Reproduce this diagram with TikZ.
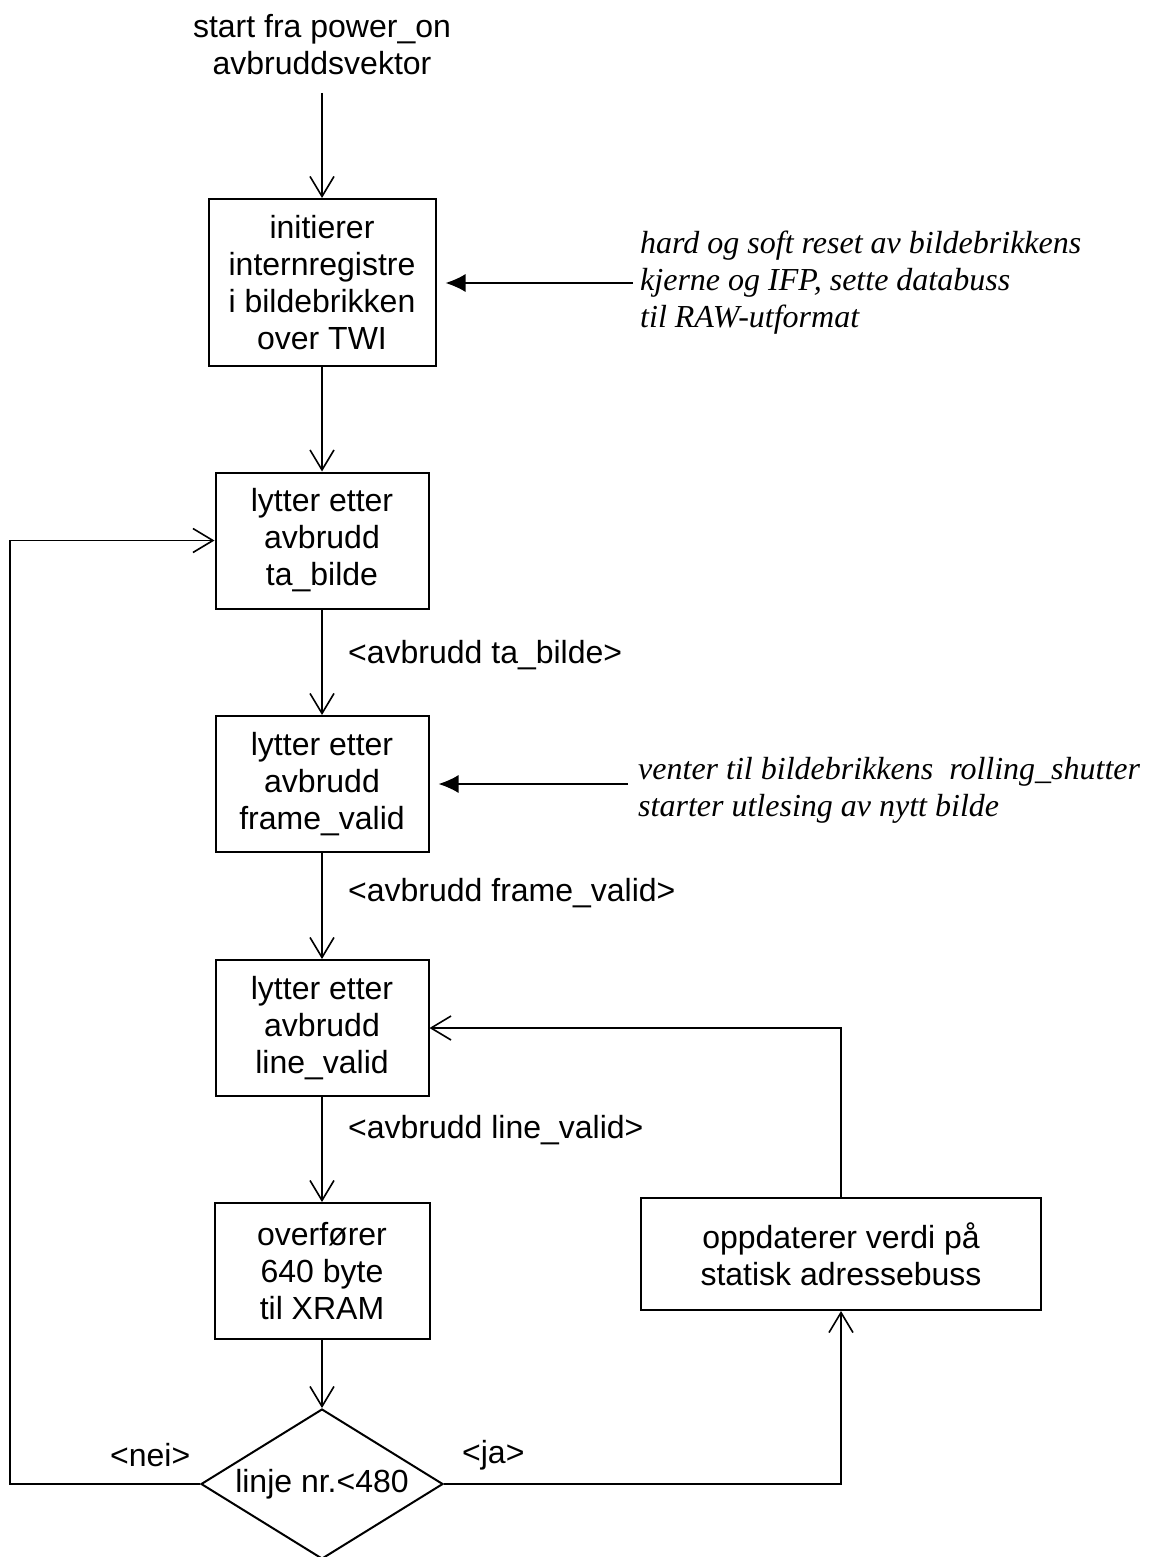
\documentclass[tikz,border=0pt]{standalone}
\usepackage{fontspec}
\setmainfont{Liberation Sans}
\newfontfamily\notefont{Liberation Serif}
\usetikzlibrary{arrows.meta,shapes.geometric}
\begin{document}
\begin{tikzpicture}[x=1pt,y=-1pt,
  every node/.style={font=\fontsize{32}{37}\selectfont},
  box/.style={draw, line width=2pt, inner sep=0pt, align=center,
              minimum width=213pt, minimum height=136pt},
  flow/.style={line width=1.6pt,
               -{Straight Barb[length=20pt,width=24pt,line width=1.6pt]}},
  hint/.style={line width=1.6pt, -{Latex[length=20pt,width=18pt]}},
  note/.style={font=\notefont\itshape\fontsize{32}{37}\selectfont,
               align=left, anchor=west, inner sep=0pt},
  lbl/.style={anchor=west, inner sep=0pt}
]
\useasboundingbox (0,0) rectangle (1159,1557);

% entry point
\node (start) at (322,45) [align=center, inner sep=0pt]
  {start fra power\_on\\avbruddsvektor};
\coordinate (s0) at (322,93);

% process steps
\node (b1) at (322,282.5) [box, minimum width=227pt, minimum height=167pt]
  {initierer\\internregistre\\i bildebrikken\\over TWI};
\node (b2) at (322,540.5) [box] {lytter etter\\avbrudd\\ta\_bilde};
\node (b3) at (322,784) [box] {lytter etter\\avbrudd\\frame\_valid};
\node (b4) at (322,1028) [box] {lytter etter\\avbrudd\\line\_valid};
\node (b5) at (322,1271) [box, minimum width=215pt] {overfører\\640 byte\\til XRAM};
\node (b6) at (841,1254) [box, minimum width=400pt, minimum height=112pt]
  {oppdaterer verdi på\\statisk adressebuss};

% decision
\node (dec) at (322,1484) [draw, diamond, line width=2pt, inner sep=0pt,
  minimum width=242pt, minimum height=150pt] {};
\node (dectext) at (dec) {linje nr.<480};

% annotations
\node[note] (n1) at (640,283)
  {hard og soft reset av bildebrikkens\\kjerne og IFP, sette databuss\\til RAW-utformat};
\node[note] (n2) at (638,790)
  {venter til bildebrikkens\ \ rolling\_shutter\\starter utlesing av nytt bilde};
\coordinate (h1) at (633,283);
\coordinate (h2) at (628,784);

% transition labels
\node[lbl] (t1) at (348,655) {<avbrudd ta\_bilde>};
\node[lbl] (t2) at (348,893) {<avbrudd frame\_valid>};
\node[lbl] (t3) at (348,1130) {<avbrudd line\_valid>};
\node[lbl] (tno) at (110,1455) {<nei>};
\node[lbl] (tyes) at (462,1455) {<ja>};

% connectors
\draw[flow] (s0) -- (b1);
\draw[flow] (b1) -- (b2);
\draw[flow] (b2) -- (b3);
\draw[flow] (b3) -- (b4);
\draw[flow] (b4) -- (b5);
\draw[flow] (b5) -- (dec);
\coordinate (lft) at (10,1484);
\draw[flow] (dec.west) -- (lft) |- (b2.west);
\draw[flow] (dec.east) -| (b6.south);
\draw[flow] (b6.north) |- (b4.east);
\draw[hint, shorten >=9pt] (h1) -- (h1 -| b1.east);
\draw[hint, shorten >=9pt] (h2) -- (h2 -| b3.east);
\end{tikzpicture}
\end{document}
